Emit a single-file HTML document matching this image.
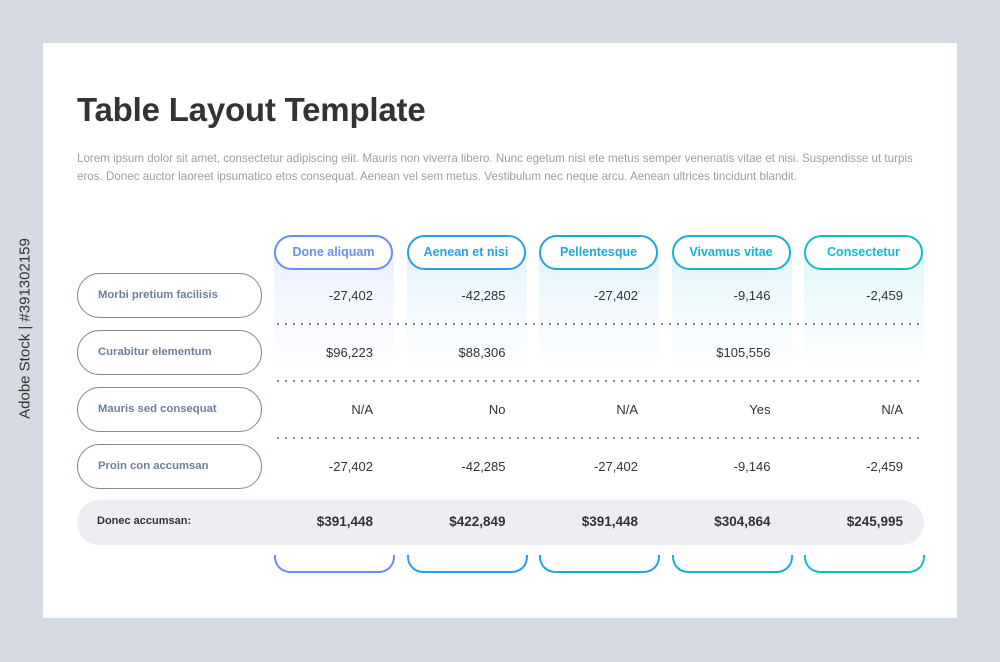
<!DOCTYPE html>
<html><head><meta charset="utf-8"><style>
body{margin:0;width:1000px;height:662px;background:#d6dbe3;font-family:"Liberation Sans",sans-serif;position:relative;overflow:hidden}
.card{position:absolute;left:43px;top:43px;width:914px;height:575px;background:#fff}
.abs{position:absolute}
.title{left:77px;top:91px;font-size:33px;font-weight:bold;color:#333;letter-spacing:-0.2px}
.para{left:77px;top:150px;width:845px;font-size:11.6px;line-height:18px;color:#9a9ea6}
.hdr{height:31px;border:2.5px solid;border-radius:18px;width:115px;text-align:center;line-height:31px;font-size:12.5px;font-weight:bold;background:#fff;box-sizing:content-box}
.grad{width:120px;top:253px}
.lbl{left:77px;border:1.5px solid #7d8ba3;border-radius:23px;color:#6f7e98;font-size:11.3px;font-weight:bold;line-height:42px;padding-left:20px;box-sizing:border-box;width:185px;height:45px}
.val{width:120px;text-align:right;font-size:13px;color:#333}
.dot{left:274px;width:650px;height:2px;background-image:radial-gradient(circle,#666 0.8px,transparent 1.1px);background-size:8px 2px}
.tot{left:77px;top:500px;width:847px;height:45px;background:#eceef1;border-radius:23px}
.tv{width:120px;text-align:right;font-size:13.5px;font-weight:bold;color:#333}
.br{top:555px;width:117px;height:16px;border:2px solid;border-top:none;border-radius:0 0 16px 16px}
.side{left:-95px;top:320px;width:240px;transform:rotate(-90deg);font-size:15px;color:#333;text-align:center}
</style></head><body>
<div class="abs side">Adobe Stock | #391302159</div>
<div class="card"></div>
<div class="abs title">Table Layout Template</div>
<div class="abs para">Lorem ipsum dolor sit amet, consectetur adipiscing elit. Mauris non viverra libero. Nunc egetum nisi ete metus semper venenatis vitae et nisi. Suspendisse ut turpis eros. Donec auctor laoreet ipsumatico etos consequat. Aenean vel sem metus. Vestibulum nec neque arcu. Aenean ultrices tincidunt blandit.</div>
<div id="t"></div>
<script>
const cols=["Done aliquam","Aenean et nisi","Pellentesque","Vivamus vitae","Consectetur"];
const rows=["Morbi pretium facilisis","Curabitur elementum","Mauris sed consequat","Proin con accumsan"];
const row1=["-27,402","-42,285","-27,402","-9,146","-2,459"];
const row2=["$96,223","$88,306","","$105,556",""];
const row3=["N/A","No","N/A","Yes","N/A"];
const row4=["-27,402","-42,285","-27,402","-9,146","-2,459"];
const totals=["$391,448","$422,849","$391,448","$304,864","$245,995"];
const colors=["#6a8ef4","#2b9ee8","#1fa6de","#17b1d6","#14bdcc"];
const tints=["rgba(106,142,244,0.13)","rgba(43,158,232,0.12)","rgba(31,166,222,0.12)","rgba(23,177,214,0.12)","rgba(20,189,204,0.13)"];
const data=[row1,row2,row3,row4];
const colX=i=>274+i*132.5, rowY=i=>273+i*57;
const t=document.getElementById('t');
function mk(cls,css,txt,name,inter){const e=document.createElement('div');e.className='abs '+cls;Object.assign(e.style,css);if(txt!==undefined)e.textContent=txt;


t.appendChild(e);return e;}
cols.forEach((c,i)=>{mk('grad',{left:colX(i)+'px',background:`linear-gradient(${tints[i]},rgba(255,255,255,0))`,height:'115px'},undefined,'column-tint',false);});
cols.forEach((c,i)=>{mk('hdr',{left:colX(i)+'px',top:'235px',borderColor:colors[i],color:colors[i]},c,'column-header',true);
mk('br',{left:colX(i)+'px',borderColor:colors[i]},undefined,'column-bracket',false);});
rows.forEach((r,j)=>{mk('lbl',{top:rowY(j)+'px'},r,'row-label',true);
data[j].forEach((v,i)=>{mk('val',{left:(colX(i)-21)+'px',top:(rowY(j)+15)+'px'},v,'cell-value',false);});
if(j<3)mk('dot',{top:(rowY(j)+50)+'px'},undefined,'row-divider',false);});
mk('tot',{},undefined,'total-row',false);
mk('',{left:'97px',top:'515px',fontSize:'11px',fontWeight:'bold',color:'#333'},'Donec accumsan:','total-label',false);
totals.forEach((v,i)=>mk('tv',{left:(colX(i)-21)+'px',top:'514px'},v,'total-value',false));
</script>
</body></html>
